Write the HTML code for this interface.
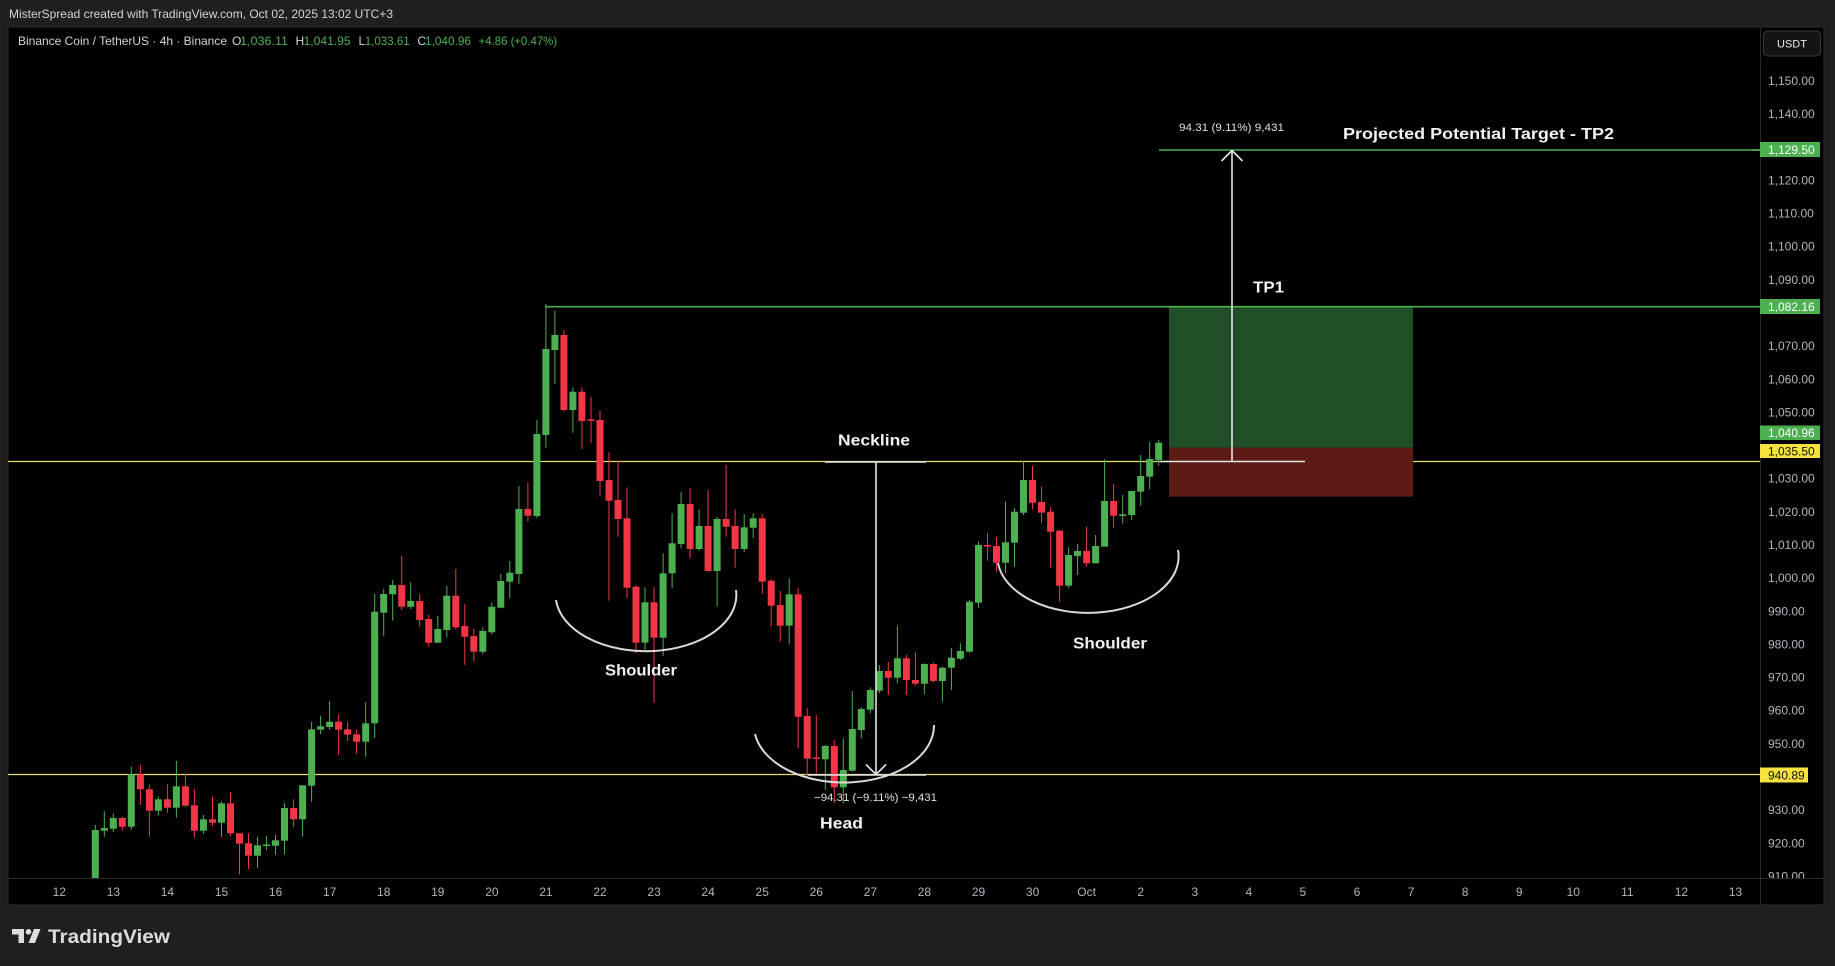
<!DOCTYPE html>
<html><head><meta charset="utf-8"><style>
html,body{margin:0;padding:0;background:#1f1f1f;}
svg{display:block;}
text{font-family:"Liberation Sans",sans-serif;}
</style></head><body>
<svg width="1835" height="966" viewBox="0 0 1835 966" xmlns="http://www.w3.org/2000/svg">
<defs><clipPath id="cp"><rect x="8" y="27" width="1752" height="851"/></clipPath>
<clipPath id="ap"><rect x="1761" y="60" width="62" height="818"/></clipPath></defs>
<rect x="0" y="0" width="1835" height="966" fill="#1f1f1f"/>
<text x="9" y="18" font-size="12" fill="#d1d4dc" textLength="384" lengthAdjust="spacingAndGlyphs">MisterSpread created with TradingView.com, Oct 02, 2025 13:02 UTC+3</text>
<rect x="8" y="27" width="1816" height="878" fill="#000" stroke="#2b2b2b" stroke-width="1"/>
<g clip-path="url(#cp)">
<line x1="8" y1="461.5" x2="1760" y2="461.5" stroke="#e6dc6e" stroke-width="1.2"/>
<line x1="8" y1="774.5" x2="1760" y2="774.5" stroke="#e6dc6e" stroke-width="1.2"/>
<rect x="1169" y="306.7" width="244" height="141" fill="#214f25"/>
<rect x="1169" y="447.7" width="244" height="49" fill="#5c1c15"/>
<line x1="545" y1="306.7" x2="1760" y2="306.7" stroke="#4caf50" stroke-width="1.6"/>
<line x1="1159" y1="150" x2="1760" y2="150" stroke="#4caf50" stroke-width="1.6"/>
<g fill="#4caf50">
<rect x="94.8" y="825" width="1" height="55"/><rect x="91.8" y="830" width="7" height="50"/>
<rect x="103.8" y="811" width="1" height="25.7"/><rect x="100.8" y="828" width="7" height="2.7"/>
<rect x="112.8" y="813.3" width="1" height="18.7"/><rect x="109.8" y="818" width="7" height="10.7"/>
<rect x="130.8" y="766.7" width="1" height="63.3"/><rect x="127.8" y="774.3" width="7" height="52.4"/>
<rect x="157.9" y="796.7" width="1" height="18.3"/><rect x="154.9" y="799.3" width="7" height="11.4"/>
<rect x="175.9" y="761" width="1" height="56.7"/><rect x="172.9" y="786.3" width="7" height="21.4"/>
<rect x="202.9" y="815" width="1" height="19"/><rect x="199.9" y="819.3" width="7" height="11.4"/>
<rect x="221" y="801.7" width="1" height="35"/><rect x="218" y="803.3" width="7" height="19.4"/>
<rect x="257" y="836.7" width="1" height="31"/><rect x="254" y="845.3" width="7" height="10.4"/>
<rect x="266" y="836" width="1" height="14"/><rect x="263" y="844.5" width="7" height="1.5"/>
<rect x="275" y="835" width="1" height="19.7"/><rect x="272" y="840.3" width="7" height="5.4"/>
<rect x="284" y="803.3" width="1" height="51"/><rect x="281" y="808" width="7" height="32.7"/>
<rect x="302.1" y="785.3" width="1" height="51.4"/><rect x="299.1" y="785.3" width="7" height="34"/>
<rect x="311.1" y="721.7" width="1" height="80"/><rect x="308.1" y="729.3" width="7" height="56.4"/>
<rect x="320.1" y="715.7" width="1" height="18.3"/><rect x="317.1" y="726.3" width="7" height="3.4"/>
<rect x="329.1" y="701.3" width="1" height="28.7"/><rect x="326.1" y="721.7" width="7" height="5.3"/>
<rect x="365.2" y="702.3" width="1" height="54.4"/><rect x="362.2" y="723.3" width="7" height="18.4"/>
<rect x="374.2" y="594" width="1" height="144"/><rect x="371.2" y="611.7" width="7" height="111.6"/>
<rect x="383.2" y="589" width="1" height="46.7"/><rect x="380.2" y="594" width="7" height="18.7"/>
<rect x="392.2" y="580" width="1" height="40.7"/><rect x="389.2" y="585" width="7" height="9.3"/>
<rect x="410.2" y="582.3" width="1" height="26.7"/><rect x="407.2" y="601" width="7" height="5.7"/>
<rect x="437.3" y="616" width="1" height="26.7"/><rect x="434.3" y="629" width="7" height="13.7"/>
<rect x="446.3" y="586" width="1" height="51.3"/><rect x="443.3" y="595.7" width="7" height="34.3"/>
<rect x="482.3" y="627.3" width="1" height="27"/><rect x="479.3" y="631" width="7" height="20.7"/>
<rect x="491.3" y="602.3" width="1" height="32"/><rect x="488.3" y="606.7" width="7" height="25.6"/>
<rect x="500.3" y="574" width="1" height="34.3"/><rect x="497.3" y="581" width="7" height="26.7"/>
<rect x="509.3" y="561" width="1" height="37.3"/><rect x="506.3" y="572.7" width="7" height="9"/>
<rect x="518.4" y="486" width="1" height="98"/><rect x="515.4" y="509" width="7" height="65"/>
<rect x="536.4" y="420" width="1" height="98.3"/><rect x="533.4" y="434" width="7" height="82"/>
<rect x="545.4" y="304" width="1" height="143.7"/><rect x="542.4" y="349" width="7" height="86"/>
<rect x="554.4" y="311" width="1" height="73"/><rect x="551.4" y="335" width="7" height="15"/>
<rect x="572.4" y="387.3" width="1" height="45.4"/><rect x="569.4" y="391.7" width="7" height="18.3"/>
<rect x="644.5" y="587.3" width="1" height="62.7"/><rect x="641.5" y="602.3" width="7" height="40.4"/>
<rect x="662.6" y="553.3" width="1" height="102.7"/><rect x="659.6" y="573.3" width="7" height="64.4"/>
<rect x="671.6" y="513.3" width="1" height="75"/><rect x="668.6" y="543.3" width="7" height="30"/>
<rect x="680.6" y="491.7" width="1" height="56.6"/><rect x="677.6" y="504" width="7" height="40"/>
<rect x="698.6" y="509.3" width="1" height="41.4"/><rect x="695.6" y="526" width="7" height="23"/>
<rect x="716.6" y="516.7" width="1" height="90"/><rect x="713.6" y="519" width="7" height="52"/>
<rect x="743.7" y="514" width="1" height="38.3"/><rect x="740.7" y="527.3" width="7" height="21.7"/>
<rect x="752.7" y="513.3" width="1" height="25"/><rect x="749.7" y="518.3" width="7" height="9.4"/>
<rect x="788.7" y="578.3" width="1" height="66"/><rect x="785.7" y="594.3" width="7" height="31.4"/>
<rect x="824.8" y="745" width="1" height="45"/><rect x="821.8" y="746" width="7" height="13.3"/>
<rect x="842.8" y="738.3" width="1" height="65"/><rect x="839.8" y="770" width="7" height="17.3"/>
<rect x="851.8" y="691" width="1" height="80.7"/><rect x="848.8" y="729" width="7" height="41.7"/>
<rect x="860.8" y="707.3" width="1" height="31"/><rect x="857.8" y="709" width="7" height="21"/>
<rect x="869.8" y="687.3" width="1" height="26"/><rect x="866.8" y="690" width="7" height="19.7"/>
<rect x="878.8" y="665" width="1" height="28.3"/><rect x="875.8" y="671" width="7" height="19.7"/>
<rect x="896.9" y="626" width="1" height="57.3"/><rect x="893.9" y="658.3" width="7" height="19.4"/>
<rect x="923.9" y="663.3" width="1" height="30.7"/><rect x="920.9" y="664" width="7" height="19.7"/>
<rect x="941.9" y="666.7" width="1" height="35"/><rect x="938.9" y="667.7" width="7" height="13.3"/>
<rect x="950.9" y="648.3" width="1" height="41.7"/><rect x="947.9" y="657.7" width="7" height="10"/>
<rect x="959.9" y="643.3" width="1" height="16.7"/><rect x="956.9" y="651" width="7" height="7.7"/>
<rect x="969" y="600" width="1" height="52.7"/><rect x="966" y="601.7" width="7" height="50"/>
<rect x="978" y="541.7" width="1" height="66"/><rect x="975" y="545" width="7" height="57.7"/>
<rect x="1005" y="501.7" width="1" height="71.6"/><rect x="1002" y="542.3" width="7" height="20.4"/>
<rect x="1014" y="508.3" width="1" height="58.4"/><rect x="1011" y="511.7" width="7" height="31"/>
<rect x="1023" y="460.7" width="1" height="54.3"/><rect x="1020" y="480" width="7" height="32.7"/>
<rect x="1068.1" y="547.3" width="1" height="41"/><rect x="1065.1" y="555" width="7" height="30.7"/>
<rect x="1077.1" y="544" width="1" height="31"/><rect x="1074.1" y="551" width="7" height="5"/>
<rect x="1095.1" y="535" width="1" height="28.3"/><rect x="1092.1" y="546" width="7" height="17.3"/>
<rect x="1104.1" y="459.3" width="1" height="87.4"/><rect x="1101.1" y="501" width="7" height="45.7"/>
<rect x="1122.2" y="495" width="1" height="28.3"/><rect x="1119.2" y="514.3" width="7" height="1.7"/>
<rect x="1131.2" y="491" width="1" height="29"/><rect x="1128.2" y="491" width="7" height="24"/>
<rect x="1140.2" y="455" width="1" height="50.7"/><rect x="1137.2" y="476" width="7" height="15.7"/>
<rect x="1149.2" y="441.7" width="1" height="47.6"/><rect x="1146.2" y="459" width="7" height="17.7"/>
<rect x="1158.2" y="440" width="1" height="26"/><rect x="1155.2" y="442.7" width="7" height="17.3"/>
</g>
<g fill="#f23645">
<rect x="121.8" y="816.7" width="1" height="14"/><rect x="118.8" y="818" width="7" height="8.7"/>
<rect x="139.9" y="765" width="1" height="40"/><rect x="136.9" y="774.3" width="7" height="15"/>
<rect x="148.9" y="784.3" width="1" height="52.4"/><rect x="145.9" y="789.3" width="7" height="21.4"/>
<rect x="166.9" y="784.3" width="1" height="28.4"/><rect x="163.9" y="799.3" width="7" height="8.4"/>
<rect x="184.9" y="773.3" width="1" height="33.4"/><rect x="181.9" y="786.3" width="7" height="19.4"/>
<rect x="193.9" y="789" width="1" height="48.7"/><rect x="190.9" y="805.3" width="7" height="25.4"/>
<rect x="212" y="796.7" width="1" height="29.3"/><rect x="209" y="819.3" width="7" height="3.4"/>
<rect x="230" y="792.3" width="1" height="43.7"/><rect x="227" y="803.3" width="7" height="30"/>
<rect x="239" y="833.3" width="1" height="41"/><rect x="236" y="833.3" width="7" height="10.4"/>
<rect x="248" y="833.3" width="1" height="35.7"/><rect x="245" y="843.3" width="7" height="12.4"/>
<rect x="293.1" y="799.3" width="1" height="28"/><rect x="290.1" y="808" width="7" height="11.3"/>
<rect x="338.1" y="714" width="1" height="41"/><rect x="335.1" y="721.7" width="7" height="8"/>
<rect x="347.1" y="721.7" width="1" height="19.3"/><rect x="344.1" y="729.3" width="7" height="5.4"/>
<rect x="356.1" y="729.3" width="1" height="24.4"/><rect x="353.1" y="734.3" width="7" height="7.4"/>
<rect x="401.2" y="556" width="1" height="54"/><rect x="398.2" y="585" width="7" height="21.7"/>
<rect x="419.2" y="594" width="1" height="32.7"/><rect x="416.2" y="601" width="7" height="19"/>
<rect x="428.2" y="615" width="1" height="31.7"/><rect x="425.2" y="619" width="7" height="23.7"/>
<rect x="455.3" y="569" width="1" height="60.3"/><rect x="452.3" y="595.7" width="7" height="31.6"/>
<rect x="464.3" y="604" width="1" height="61"/><rect x="461.3" y="626" width="7" height="10.7"/>
<rect x="473.3" y="628.3" width="1" height="33.4"/><rect x="470.3" y="636" width="7" height="15.7"/>
<rect x="527.4" y="482.3" width="1" height="39.4"/><rect x="524.4" y="509" width="7" height="6.7"/>
<rect x="563.4" y="330" width="1" height="81.7"/><rect x="560.4" y="335" width="7" height="75"/>
<rect x="581.4" y="387.3" width="1" height="61.7"/><rect x="578.4" y="391.7" width="7" height="29.3"/>
<rect x="590.5" y="396.7" width="1" height="46.6"/><rect x="587.5" y="419.3" width="7" height="1.5"/>
<rect x="599.5" y="410.7" width="1" height="85"/><rect x="596.5" y="420" width="7" height="61"/>
<rect x="608.5" y="452.3" width="1" height="148.4"/><rect x="605.5" y="480" width="7" height="20.7"/>
<rect x="617.5" y="460.7" width="1" height="76"/><rect x="614.5" y="500" width="7" height="19"/>
<rect x="626.5" y="487.3" width="1" height="111"/><rect x="623.5" y="518.3" width="7" height="69.4"/>
<rect x="635.5" y="585" width="1" height="68.3"/><rect x="632.5" y="586.7" width="7" height="56"/>
<rect x="653.5" y="587.3" width="1" height="115.4"/><rect x="650.5" y="602.3" width="7" height="35.4"/>
<rect x="689.6" y="488.3" width="1" height="70"/><rect x="686.6" y="504" width="7" height="45"/>
<rect x="707.6" y="490" width="1" height="81.7"/><rect x="704.6" y="526" width="7" height="45"/>
<rect x="725.6" y="465" width="1" height="71.7"/><rect x="722.6" y="519" width="7" height="7.7"/>
<rect x="734.6" y="509.3" width="1" height="58.4"/><rect x="731.6" y="526" width="7" height="23"/>
<rect x="761.7" y="514" width="1" height="80"/><rect x="758.7" y="518.3" width="7" height="63.4"/>
<rect x="770.7" y="579.3" width="1" height="47.4"/><rect x="767.7" y="580.7" width="7" height="25"/>
<rect x="779.7" y="591" width="1" height="50.7"/><rect x="776.7" y="605" width="7" height="20.7"/>
<rect x="797.7" y="588.3" width="1" height="160"/><rect x="794.7" y="594.3" width="7" height="122.4"/>
<rect x="806.7" y="708.3" width="1" height="70"/><rect x="803.7" y="716" width="7" height="42.7"/>
<rect x="815.8" y="715" width="1" height="58.3"/><rect x="812.8" y="757.5" width="7" height="1.5"/>
<rect x="833.8" y="740" width="1" height="63.3"/><rect x="830.8" y="746" width="7" height="41.3"/>
<rect x="887.8" y="661.7" width="1" height="33.3"/><rect x="884.8" y="671" width="7" height="6.7"/>
<rect x="905.9" y="655" width="1" height="40"/><rect x="902.9" y="658.3" width="7" height="21.7"/>
<rect x="914.9" y="652.3" width="1" height="33.7"/><rect x="911.9" y="680" width="7" height="3.7"/>
<rect x="932.9" y="662.7" width="1" height="20"/><rect x="929.9" y="664" width="7" height="17"/>
<rect x="987" y="533.3" width="1" height="27.4"/><rect x="984" y="545" width="7" height="1.5"/>
<rect x="996" y="537.3" width="1" height="34.4"/><rect x="993" y="546" width="7" height="16.7"/>
<rect x="1032" y="466" width="1" height="43.3"/><rect x="1029" y="480" width="7" height="22.7"/>
<rect x="1041" y="486.7" width="1" height="36"/><rect x="1038" y="502" width="7" height="10.7"/>
<rect x="1050.1" y="507.3" width="1" height="60"/><rect x="1047.1" y="511.7" width="7" height="20"/>
<rect x="1059.1" y="530" width="1" height="71.7"/><rect x="1056.1" y="530.7" width="7" height="55"/>
<rect x="1086.1" y="526.7" width="1" height="40"/><rect x="1083.1" y="551" width="7" height="12.3"/>
<rect x="1113.1" y="484" width="1" height="43.7"/><rect x="1110.1" y="501" width="7" height="14.7"/>
</g>
<!-- measurement lines -->
<g stroke="#e4e4e4" stroke-width="1.6" fill="none">
<line x1="825" y1="462" x2="926" y2="462"/>
<line x1="876" y1="462" x2="876" y2="774"/>
<polyline points="866,764.5 876,774.5 886,764.5"/>
<line x1="808" y1="775" x2="926" y2="775"/>
<line x1="1160" y1="461.5" x2="1305" y2="461.5"/>
<line x1="1232" y1="461.5" x2="1232" y2="151"/>
<polyline points="1221.5,161 1232,150.5 1242.5,161"/>
</g>
<g stroke="#dadada" stroke-width="2" fill="none">
<path d="M556,600 A90,56 0 0,0 736,590"/>
<path d="M755,734 A90,57 0 0,0 934,725"/>
<path d="M998,563 A90,56 0 0,0 1178,550"/>
</g>
<g font-weight="bold" font-size="16" fill="#f2f2f2" text-anchor="middle">
<text x="874" y="445.5" textLength="72" lengthAdjust="spacingAndGlyphs">Neckline</text>
<text x="641" y="675.5" textLength="72" lengthAdjust="spacingAndGlyphs">Shoulder</text>
<text x="1110" y="648.5" textLength="74" lengthAdjust="spacingAndGlyphs">Shoulder</text>
<text x="841.5" y="828.5" textLength="43" lengthAdjust="spacingAndGlyphs">Head</text>
<text x="1268.5" y="292.5" textLength="31" lengthAdjust="spacingAndGlyphs">TP1</text>
<text x="1478.5" y="139" textLength="271" lengthAdjust="spacingAndGlyphs">Projected Potential Target - TP2</text>
</g>
<g font-size="11" fill="#e0e0e0" text-anchor="middle">
<text x="1231.5" y="131" textLength="105" lengthAdjust="spacingAndGlyphs">94.31 (9.11%) 9,431</text>
<text x="875.5" y="801" textLength="123" lengthAdjust="spacingAndGlyphs">−94.31 (−9.11%) −9,431</text>
</g>
</g>
<!-- legend -->
<g font-size="12">
<text x="18" y="45" fill="#d1d4dc" textLength="209" lengthAdjust="spacingAndGlyphs">Binance Coin / TetherUS · 4h · Binance</text>
<text x="232" y="45" fill="#d1d4dc">O</text><text x="240" y="45" fill="#4caf50" textLength="48" lengthAdjust="spacingAndGlyphs">1,036.11</text>
<text x="295.5" y="45" fill="#d1d4dc">H</text><text x="303.6" y="45" fill="#4caf50" textLength="47" lengthAdjust="spacingAndGlyphs">1,041.95</text>
<text x="358.5" y="45" fill="#d1d4dc">L</text><text x="364.7" y="45" fill="#4caf50" textLength="45" lengthAdjust="spacingAndGlyphs">1,033.61</text>
<text x="417.4" y="45" fill="#d1d4dc">C</text><text x="425" y="45" fill="#4caf50" textLength="46" lengthAdjust="spacingAndGlyphs">1,040.96</text>
<text x="478.6" y="45" fill="#4caf50" textLength="78.5" lengthAdjust="spacingAndGlyphs">+4.86 (+0.47%)</text>
</g>
<!-- axes -->
<line x1="1760.5" y1="27" x2="1760.5" y2="905" stroke="#2a2a2a" stroke-width="1"/>
<line x1="8" y1="878.5" x2="1824" y2="878.5" stroke="#2a2a2a" stroke-width="1"/>
<rect x="1763.5" y="31" width="57" height="25" rx="4" fill="#141414" stroke="#3a3a3a"/>
<text x="1792" y="47.5" font-size="11" fill="#e8e8e8" text-anchor="middle">USDT</text>
<g font-size="12" fill="#b2b5be" clip-path="url(#ap)">
<text x="1768" y="85">1,150.00</text>
<text x="1768" y="118.1">1,140.00</text>
<text x="1768" y="184.4">1,120.00</text>
<text x="1768" y="217.6">1,110.00</text>
<text x="1768" y="250.7">1,100.00</text>
<text x="1768" y="283.9">1,090.00</text>
<text x="1768" y="350.1">1,070.00</text>
<text x="1768" y="383.3">1,060.00</text>
<text x="1768" y="416.4">1,050.00</text>
<text x="1768" y="482.7">1,030.00</text>
<text x="1768" y="515.9">1,020.00</text>
<text x="1768" y="549">1,010.00</text>
<text x="1768" y="582.1">1,000.00</text>
<text x="1768" y="615.3">990.00</text>
<text x="1768" y="648.4">980.00</text>
<text x="1768" y="681.6">970.00</text>
<text x="1768" y="714.7">960.00</text>
<text x="1768" y="747.9">950.00</text>
<text x="1768" y="814.1">930.00</text>
<text x="1768" y="847.3">920.00</text>
<text x="1768" y="880.4">910.00</text>
</g>
<line x1="1752" y1="150" x2="1761" y2="150" stroke="#4caf50" stroke-width="1.6"/>
<rect x="1760" y="142" width="60" height="15" fill="#4caf50"/>
<text x="1768" y="154" font-size="12" fill="#fff">1,129.50</text>
<rect x="1760" y="299" width="60" height="15" fill="#4caf50"/>
<text x="1768" y="311" font-size="12" fill="#fff">1,082.16</text>
<rect x="1760" y="425.5" width="60" height="14.5" fill="#4caf50"/>
<text x="1768" y="437" font-size="12" fill="#fff">1,040.96</text>
<rect x="1760" y="444" width="60" height="14" fill="#f5e23c"/>
<text x="1768" y="455.5" font-size="12" fill="#131313">1,035.50</text>
<rect x="1760" y="767.5" width="48" height="15" fill="#f5e23c"/>
<text x="1768" y="779.5" font-size="12" fill="#131313">940.89</text>
<g font-size="12" fill="#b2b5be" text-anchor="middle">
<text x="59.3" y="896">12</text><text x="113.4" y="896">13</text><text x="167.4" y="896">14</text><text x="221.5" y="896">15</text>
<text x="275.6" y="896">16</text><text x="329.7" y="896">17</text><text x="383.7" y="896">18</text><text x="437.8" y="896">19</text>
<text x="491.9" y="896">20</text><text x="545.9" y="896">21</text><text x="600" y="896">22</text><text x="654.1" y="896">23</text>
<text x="708.1" y="896">24</text><text x="762.2" y="896">25</text><text x="816.3" y="896">26</text><text x="870.4" y="896">27</text>
<text x="924.4" y="896">28</text><text x="978.5" y="896">29</text><text x="1032.6" y="896">30</text><text x="1086.6" y="896">Oct</text>
<text x="1140.7" y="896">2</text><text x="1194.8" y="896">3</text><text x="1248.8" y="896">4</text><text x="1302.9" y="896">5</text>
<text x="1357" y="896">6</text><text x="1411.1" y="896">7</text><text x="1465.1" y="896">8</text><text x="1519.2" y="896">9</text>
<text x="1573.3" y="896">10</text><text x="1627.3" y="896">11</text><text x="1681.4" y="896">12</text><text x="1735.5" y="896">13</text>
</g>
<!-- logo -->
<g fill="#dcdcdc">
<polygon points="12,929 24,929 24,943 18.5,943 18.5,934.5 12,934.5"/>
<circle cx="28.5" cy="931.8" r="2.8"/>
<polygon points="34,929 40.5,929 35,943 28.5,943"/>
<text x="48" y="943" font-size="19" font-weight="bold" textLength="122" lengthAdjust="spacingAndGlyphs">TradingView</text>
</g>
</svg>
</body></html>
